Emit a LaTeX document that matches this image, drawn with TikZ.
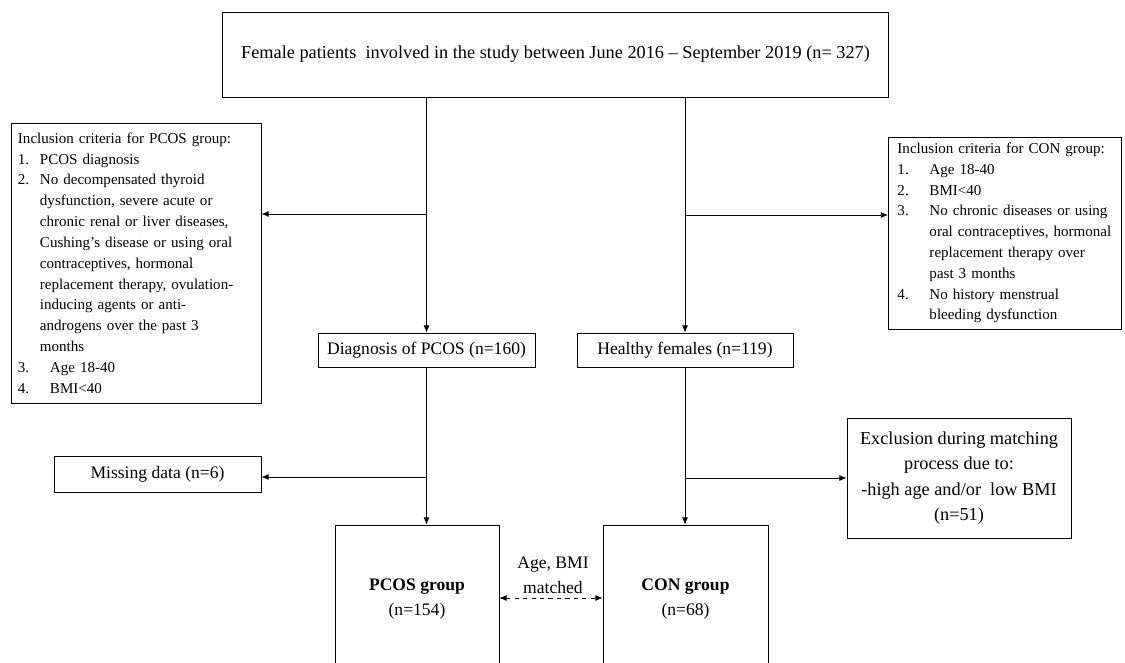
\documentclass[tikz,border=0pt]{standalone}
\usepackage{fontspec}
\setmainfont{Liberation Serif}
\usetikzlibrary{arrows.meta}
\newcommand{\itemno}[2][0.55cm]{\makebox[#1][l]{#2}}
\begin{document}
\begin{tikzpicture}[x=0.025cm, y=0.025cm,
  box/.style={draw, line width=0.6pt, inner sep=0pt, align=center, font=\fontsize{12.5}{17.5}\selectfont},
  crit/.style={draw, line width=0.6pt, inner ysep=0pt, align=left, font=\fontsize{10.7}{14.8}\selectfont},
  arr/.style={line width=0.6pt, -{Latex[length=1.8mm,width=1.5mm]}}]
  \useasboundingbox (0,0) rectangle (1125,-663);
  \node[box, font=\fontsize{13}{17.5}\selectfont, minimum width=16.65cm, minimum height=2.125cm] (top) at (555.5,-54.5) {Female patients\ \ involved in the study between June 2016 -- September 2019 (n= 327)};
  \node[crit, text width=5.9cm, inner xsep=0.175cm, minimum height=7cm] (pcoscrit) at (136,-263) {Inclusion criteria for PCOS group:\\
    \itemno{1.}PCOS diagnosis\\
    \itemno{2.}No decompensated thyroid\\
    \itemno{}dysfunction, severe acute or\\
    \itemno{}chronic renal or liver diseases,\\
    \itemno{}Cushing's disease or using oral\\
    \itemno{}contraceptives, hormonal\\
    \itemno{}replacement therapy, ovulation-\\
    \itemno{}inducing agents or anti-\\
    \itemno{}androgens over the past 3\\
    \itemno{}months\\
    \itemno[0.8cm]{3.}Age 18-40\\
    \itemno[0.8cm]{4.}BMI<40};
  \node[crit, text width=5.375cm, inner xsep=0.225cm, minimum height=4.8cm] (concrit) at (1005,-233) {Inclusion criteria for CON group:\\
    \itemno[0.8cm]{1.}Age 18-40\\
    \itemno[0.8cm]{2.}BMI<40\\
    \itemno[0.8cm]{3.}No chronic diseases or using\\
    \itemno[0.8cm]{}oral contraceptives, hormonal\\
    \itemno[0.8cm]{}replacement therapy over\\
    \itemno[0.8cm]{}past 3 months\\
    \itemno[0.8cm]{4.}No history menstrual\\
    \itemno[0.8cm]{}bleeding dysfunction};
  \node[box, minimum width=5.425cm, minimum height=0.85cm] (diag) at (426.5,-350) {Diagnosis of PCOS (n=160)};
  \node[box, minimum width=5.4cm, minimum height=0.85cm] (healthy) at (685,-350) {Healthy females (n=119)};
  \node[box, minimum width=5.175cm, minimum height=0.9cm] (missing) at (157.5,-474) {Missing data (n=6)};
  \node[box, font=\fontsize{13}{18.2}\selectfont, minimum width=5.6cm, minimum height=3cm] (excl) at (959,-478) {Exclusion during matching\\process due to:\\-high age and/or\ \ low BMI\\(n=51)};
  \node[box, minimum width=4.1cm, minimum height=3.7cm] (pcos) at (417,-599) {\textbf{PCOS group}\\(n=154)};
  \node[box, minimum width=4.125cm, minimum height=3.7cm] (con) at (685.5,-599) {\textbf{CON group}\\(n=68)};
  \node[box, draw=none] (match) at (553,-575) {Age, BMI\\matched};
  \coordinate (lsplit) at (diag.north |- 0,-214);
  \coordinate (rsplit) at (healthy.north |- 0,-215);
  \coordinate (lmiss) at (diag.south |- 0,-477);
  \coordinate (rexcl) at (healthy.south |- 0,-478);
  \draw[arr] (top.south -| diag.north) -- (diag.north);
  \draw[arr] (top.south -| healthy.north) -- (healthy.north);
  \draw[arr] (lsplit) -- (pcoscrit.east |- lsplit);
  \draw[arr] (rsplit) -- (concrit.west |- rsplit);
  \draw[arr] (diag.south) -- (diag.south |- pcos.north);
  \draw[arr] (healthy.south) -- (healthy.south |- con.north);
  \draw[arr] (lmiss) -- (missing.east |- lmiss);
  \draw[arr] (rexcl) -- (excl.west |- rexcl);
  \draw[line width=0.6pt, dashed, {Latex[length=1.8mm,width=1.5mm]}-{Latex[length=1.8mm,width=1.5mm]}] (pcos.east |- 0,-598) -- (con.west |- 0,-598);
\end{tikzpicture}
\end{document}
